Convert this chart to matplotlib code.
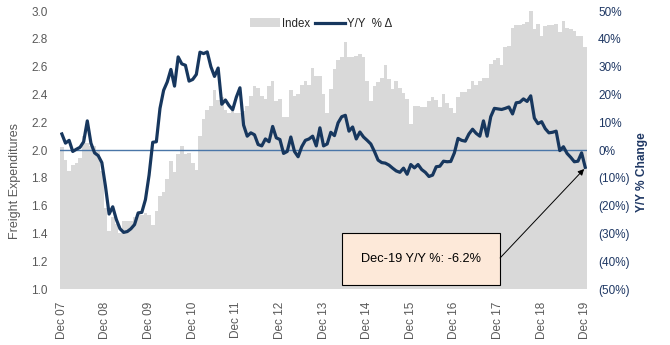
import numpy as np
import pandas as pd
import matplotlib
matplotlib.use("Agg")
import matplotlib.pyplot as plt
from matplotlib.patches import Patch, Rectangle
from matplotlib.lines import Line2D
from matplotlib.ticker import FuncFormatter, MultipleLocator

plt.rcParams["font.family"] = ["Liberation Sans", "DejaVu Sans"]

# monthly, Dec 2007 .. Dec 2019
months = pd.period_range("2007-12", "2019-12", freq="M")

index_vals = [
    2.02, 1.93, 1.85, 1.89, 1.91, 1.94, 2.10, 2.05, 2.03, 2.03, 2.00, 1.85,
    1.58, 1.42, 1.52, 1.47, 1.40, 1.49, 1.49, 1.49, 1.52, 1.54, 1.53, 1.55,
    1.53, 1.46, 1.56, 1.67, 1.70, 1.79, 1.92, 1.84, 1.97, 2.03, 1.97, 1.98,
    1.91, 1.86, 2.10, 2.22, 2.29, 2.32, 2.43, 2.36, 2.38, 2.29, 2.27, 2.28,
    2.27, 2.27, 2.28, 2.32, 2.39, 2.46, 2.45, 2.39, 2.37, 2.46, 2.50, 2.35,
    2.37, 2.24, 2.24, 2.43, 2.39, 2.40, 2.47, 2.50, 2.47, 2.59, 2.53, 2.53,
    2.40, 2.27, 2.44, 2.58, 2.65, 2.67, 2.78, 2.67, 2.67, 2.68, 2.69, 2.67,
    2.50, 2.35, 2.46, 2.49, 2.52, 2.61, 2.51, 2.44, 2.50, 2.45, 2.41, 2.37,
    2.19, 2.32, 2.32, 2.31, 2.31, 2.35, 2.38, 2.36, 2.31, 2.40, 2.34, 2.30,
    2.27, 2.38, 2.42, 2.42, 2.44, 2.50, 2.47, 2.50, 2.52, 2.52, 2.62, 2.65,
    2.66, 2.61, 2.74, 2.75, 2.88, 2.90, 2.90, 2.91, 2.92, 3.00, 2.87, 2.91,
    2.82, 2.89, 2.90, 2.90, 2.91, 2.85, 2.93, 2.88, 2.87, 2.86, 2.82, 2.82,
    2.74,
]

yoy_pct = [
    5.8, 2.5, 3.5, -0.5, 0.3, 1.0, 3.0, 10.5, 2.5, -1.0, -2.0, -4.5,
    -13.0, -23.0, -20.4, -25.0, -28.3, -29.6, -29.3, -28.3, -26.8, -22.6, -22.4, -17.8,
    -9.0, 2.8, 3.0, 15.0, 21.5, 24.5, 29.0, 23.0, 33.5, 31.0, 30.5, 24.8,
    25.4, 27.2, 35.2, 34.7, 35.3, 30.0, 26.5, 29.5, 16.5, 18.0, 16.0, 14.5,
    19.0, 22.4, 9.0, 5.0, 6.2, 5.5, 2.0, 1.5, 4.0, 3.0, 8.5, 4.4,
    3.8, -1.2, -0.5, 4.7, -0.5, -2.4, 1.2, 3.5, 4.0, 5.0, 1.5, 8.0,
    1.5, 2.2, 6.4, 5.2, 9.8, 12.0, 12.5, 6.8, 8.3, 4.0, 6.5, 4.7,
    3.5, 2.2, -0.5, -3.6, -4.5, -4.7, -5.4, -6.5, -7.5, -8.0, -6.5, -8.7,
    -5.2, -6.4, -5.2, -7.0, -8.0, -9.5, -9.0, -6.0, -5.8, -4.0, -4.2, -4.1,
    -1.0, 4.2, 3.5, 3.2, 5.8, 7.5, 6.0, 5.0, 10.5, 5.0, 12.0, 15.0,
    14.8, 14.6, 15.0, 15.5, 13.0, 17.0, 17.2, 18.4, 17.5, 19.5, 11.5, 9.5,
    10.2, 7.7, 6.2, 6.4, 6.8, -0.2, 1.2, -1.2, -2.6, -4.2, -4.0, -1.0,
    -6.2,
]

BAR_GRAY = "#D9D9D9"
NAVY = "#17375E"
ZERO_BLUE = "#4A76A8"
LEFT_TXT = "#595959"
RIGHT_TXT = "#1F3864"

x = np.arange(len(months))
dec_pos = [i for i, m in enumerate(months) if m.month == 12]
dec_lab = [m.strftime("Dec %y") for m in months if m.month == 12]

fig = plt.figure(figsize=(6.7, 3.45), dpi=100)
ax = fig.add_axes([0.0896, 0.162, 0.7866, 0.806])
ax.bar(x, index_vals, width=1.0, bottom=0, color=BAR_GRAY, linewidth=0)
ax.set_ylim(1.0, 3.0)
ax.set_xlim(-0.5, len(months) - 0.5)
ax.yaxis.set_major_locator(MultipleLocator(0.2))
ax.yaxis.set_major_formatter(FuncFormatter(lambda v, p: f"{v:.1f}"))
ax.set_xticks(dec_pos)
ax.set_xticklabels(dec_lab, rotation=90)
ax.tick_params(axis="x", length=0, pad=9, labelsize=8.5, labelcolor=LEFT_TXT)
ax.tick_params(axis="y", length=0, pad=9, labelsize=8.5, labelcolor=LEFT_TXT)
ax.set_ylabel("Freight Expenditures", fontsize=9, color=LEFT_TXT)
ax.yaxis.set_label_coords(-0.074, 0.39)
for s in ax.spines.values():
    s.set_visible(False)

ax2 = ax.twinx()
ax2.axhline(0, color=ZERO_BLUE, lw=1.0, zorder=1)
ax2.plot(x, yoy_pct, color=NAVY, lw=2.3, zorder=3, solid_joinstyle="round")
ax2.set_ylim(-50, 50)
ax2.yaxis.set_major_locator(MultipleLocator(10))
ax2.yaxis.set_major_formatter(
    FuncFormatter(lambda v, p: f"{v:.0f}%" if v >= 0 else f"({-v:.0f}%)"))
ax2.tick_params(axis="y", length=0, pad=8, labelsize=8.5, labelcolor=RIGHT_TXT)
ax2.set_ylabel("Y/Y % Change", fontsize=8.6, color=RIGHT_TXT, fontweight="bold")
ax2.yaxis.set_label_coords(1.093, 0.42)
for s in ax2.spines.values():
    s.set_visible(False)

# callout box for latest value
ax2.add_patch(Rectangle((0.535, 0.014), 0.30, 0.187, transform=ax2.transAxes,
                        facecolor="#FDE9D9", edgecolor="black", lw=0.8,
                        zorder=4))
ax2.text(0.685, 0.108, f"Dec-19 Y/Y %: {yoy_pct[-1]:.1f}%", transform=ax2.transAxes,
         ha="center", va="center", fontsize=9.2, color="black", zorder=5)
ax2.annotate("", xy=(x[-1] - 0.3, yoy_pct[-1] - 0.6), xycoords="data",
             xytext=(0.835, 0.112), textcoords="axes fraction",
             arrowprops=dict(arrowstyle="-|>", color="black", lw=0.7,
                             mutation_scale=9, shrinkA=0, shrinkB=0),
             zorder=5)

handles = [Patch(facecolor=BAR_GRAY, edgecolor="none"),
           Line2D([0], [0], color=NAVY, lw=2.3)]
ax2.legend(handles, ["Index", "Y/Y  % \u0394"], loc="center",
           bbox_to_anchor=(0.496, 0.955), ncol=2, frameon=False, fontsize=8.3,
           handlelength=2.6, handletextpad=0.2, columnspacing=0.4,
           labelcolor="#262626")

fig.savefig("out.png", dpi=100)
